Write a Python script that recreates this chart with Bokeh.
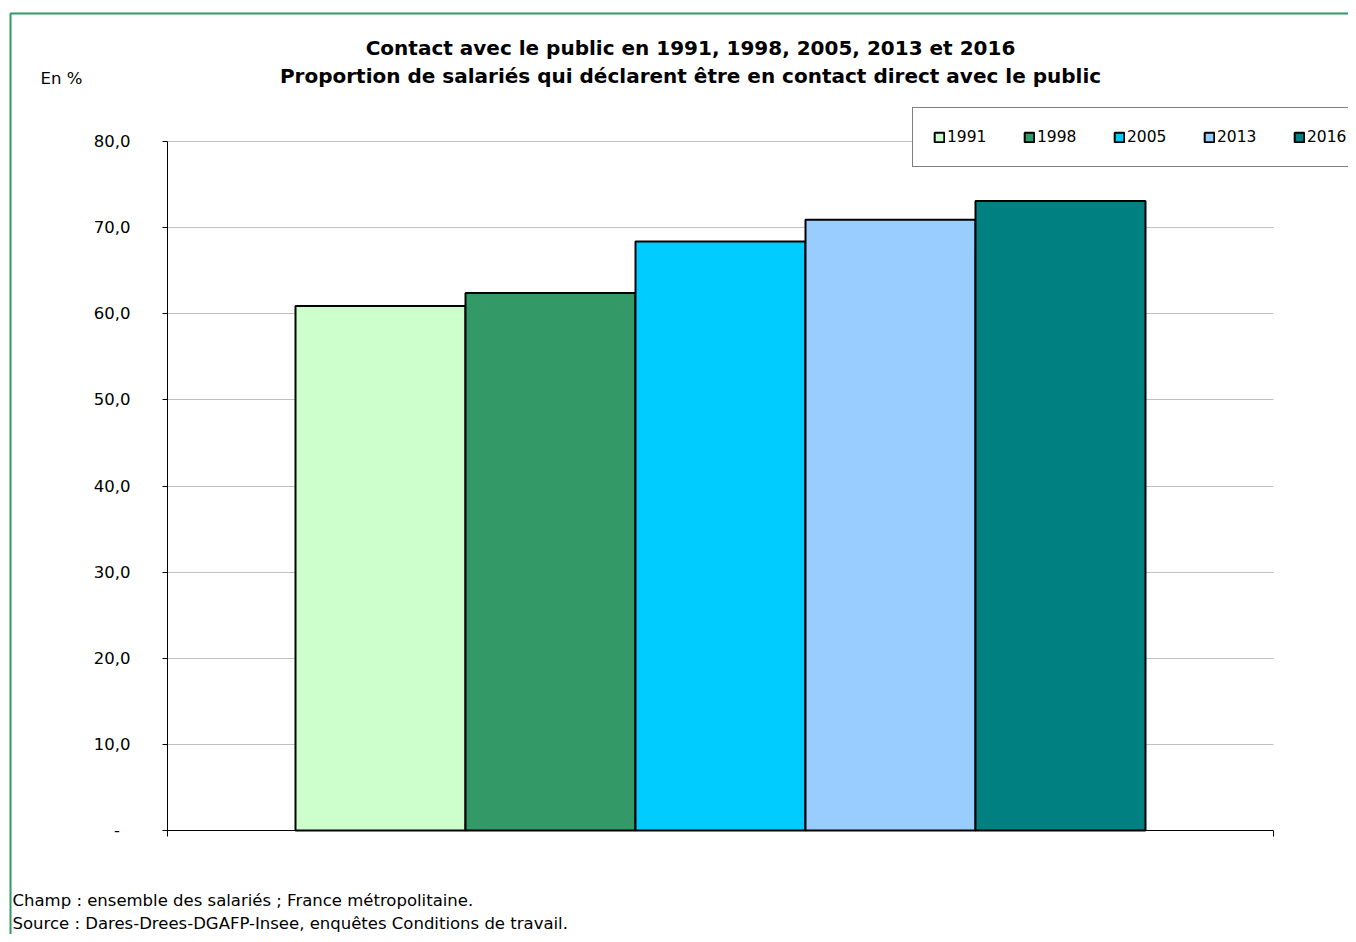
from bokeh.plotting import figure
from bokeh.models import (ColumnDataSource, Range1d, LinearAxis, FixedTicker,
                          CustomJSTickFormatter, Label, Legend, LegendItem,
                          BoxAnnotation, Grid)
from bokeh.embed import file_html
from bokeh.resources import INLINE

# ---- data ----
years = ["1991", "1998", "2005", "2013", "2016"]
values = [60.9, 62.4, 68.4, 70.9, 73.1]
y_ticks = [0, 10, 20, 30, 40, 50, 60, 70, 80]

title_1 = "Contact avec le public en 1991, 1998, 2005, 2013 et 2016"
title_2 = "Proportion de salariés qui déclarent être en contact direct avec le public"
unit_text = "En %"
note_1 = "Champ : ensemble des salariés ; France métropolitaine."
note_2 = "Source : Dares-Drees-DGAFP-Insee, enquêtes Conditions de travail."

# ---- styles / layout (pixels) ----
colors = ["#CCFFCC", "#339966", "#00CCFF", "#99CCFF", "#008080"]
FONT = "DejaVu Sans"
W, H = 1348, 934
PL, PR, PT, PB = 167, 1273, 141, 830       # plot area edges on the canvas
BAR_PX = 170
Y_MAX = 80

# data <-> pixel mapping of the full canvas
sx = (PR - PL) / 1.0          # px per x unit (x in [0,1])
sy = (PB - PT) / Y_MAX        # px per y unit
x_range = Range1d(-PL / sx, 1 + (W - PL - sx) / sx)
y_range = Range1d(-(H - PB) / sy, Y_MAX + PT / sy)

BAR_W = BAR_PX / sx
n = len(years)
xs = [0.5 + (i - (n - 1) / 2) * BAR_W for i in range(n)]
src = ColumnDataSource(dict(x=xs, top=values, year=years, color=colors))

p = figure(width=W, height=H, output_backend="svg", toolbar_location=None,
           x_range=x_range, y_range=y_range,
           x_axis_type=None, y_axis_type=None,
           min_border=0)
p.outline_line_color = None
p.background_fill_color = "white"
p.border_fill_color = "white"

# grid lines (only across the plot area)
g = Grid(dimension=1, ticker=FixedTicker(ticks=y_ticks),
         grid_line_color="#C0C0C0", grid_line_width=1)
if "cross_bounds" in g.properties():
    g.cross_bounds = (0, 1)
    p.add_layout(g, "center")
else:
    p.segment(x0=[0] * len(y_ticks), x1=[1] * len(y_ticks), y0=y_ticks, y1=y_ticks,
              line_color="#C0C0C0", line_width=1)

r = p.vbar(x="x", top="top", width=BAR_W, bottom=0, source=src,
           fill_color="color", line_color="black", line_width=2)

# y axis
ya = LinearAxis(ticker=FixedTicker(ticks=y_ticks), fixed_location=0, bounds=(0, Y_MAX))
ya.formatter = CustomJSTickFormatter(code="""
    if (Math.abs(tick) < 1e-9) { return "-\u00a0\u00a0"; }
    return tick.toFixed(1).replace('.', ',');
""")
ya.axis_line_color = "black"
ya.major_tick_line_color = "black"
ya.major_tick_out = 5
ya.major_tick_in = 0
ya.minor_tick_line_color = None
ya.major_label_standoff = 32
ya.major_label_text_font = FONT
ya.major_label_text_font_size = "16.5px"
ya.major_label_text_color = "black"
p.add_layout(ya, "left")

# x axis
xa = LinearAxis(ticker=FixedTicker(ticks=[0, 1]), fixed_location=0, bounds=(0, 1))
xa.major_label_overrides = {0: "", 1: ""}
xa.axis_line_color = "black"
xa.major_tick_line_color = "black"
xa.major_tick_out = 6
xa.major_tick_in = 0
xa.minor_tick_line_color = None
p.add_layout(xa, "below")

# outer green frame (top and left visible)
p.add_layout(BoxAnnotation(left=10, right=W + 50, top=H - 13, bottom=-50,
                           left_units="screen", right_units="screen",
                           top_units="screen", bottom_units="screen",
                           fill_alpha=0, line_color="#339966", line_alpha=1,
                           line_width=2))

# legend
legend = Legend(location=(912, H - 167), orientation="horizontal")
legend.items = [LegendItem(label=years[i], renderers=[r], index=i) for i in range(n)]
legend.label_text_font = FONT
legend.label_text_font_size = "15.5px"
legend.label_text_color = "black"
legend.glyph_width = 12
legend.glyph_height = 12
legend.label_standoff = 2
legend.label_width = 68
legend.label_height = 18
legend.spacing = 8
legend.padding = 20
legend.margin = 0
legend.border_line_color = "black"
legend.border_line_width = 1
legend.background_fill_color = "white"
legend.background_fill_alpha = 1
p.add_layout(legend, "center")

# texts (screen units: from canvas bottom-left)
def lab(x, y_top, t, size, bold=False, align="left", base="middle"):
    p.add_layout(Label(x=x, y=H - y_top, x_units="screen", y_units="screen", text=t,
                       text_font=FONT, text_font_size=size,
                       text_font_style="bold" if bold else "normal",
                       text_align=align, text_baseline=base, text_color="black"))

lab(690, 47, title_1, "20px", bold=True, align="center")
lab(690, 75, title_2, "20px", bold=True, align="center")
lab(40, 78, unit_text, "16.5px")
lab(12, 900, note_1, "16.5px", base="alphabetic")
lab(12, 922.7, note_2, "16.5px", base="alphabetic")

open("out.html", "w").write(file_html(p, INLINE))
